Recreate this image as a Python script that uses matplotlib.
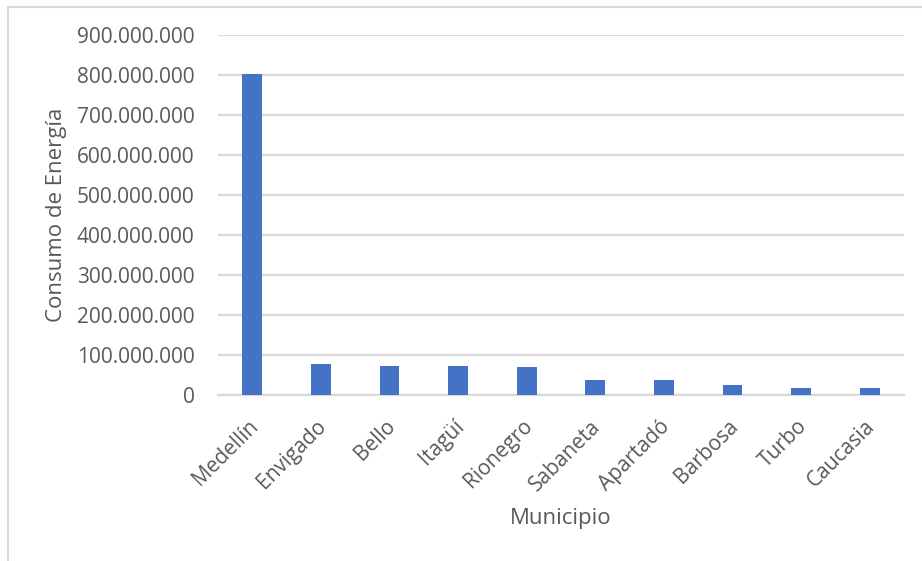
import matplotlib
matplotlib.use("Agg")
import matplotlib.pyplot as plt
from matplotlib.lines import Line2D
from matplotlib.ticker import FuncFormatter, MultipleLocator
from matplotlib.transforms import ScaledTranslation

# Energy consumption by municipality
municipios = ["Medellín", "Envigado", "Bello", "Itagüí", "Rionegro",
              "Sabaneta", "Apartadó", "Barbosa", "Turbo", "Caucasia"]
consumo = [803_000_000, 77_000_000, 73_500_000, 73_000_000, 70_000_000,
           37_000_000, 37_000_000, 24_000_000, 17_500_000, 17_500_000]

BAR = "#4472C4"
GRID = "#D9D9D9"
TEXT = "#595959"

plt.rcParams["font.family"] = ["Open Sans", "DejaVu Sans"]

fig = plt.figure(figsize=(9.22, 5.61), dpi=100)
ax = fig.add_axes([218 / 922, 1 - 395 / 561, 686 / 922, 360 / 561])

x = list(range(len(municipios)))
ax.bar(x, consumo, width=0.29, color=BAR, zorder=3)

ax.set_xlim(-0.5, len(municipios) - 0.5)
ax.set_ylim(0, 900_000_000)
ax.yaxis.set_major_locator(MultipleLocator(100_000_000))
ax.yaxis.set_major_formatter(
    FuncFormatter(lambda v, p: f"{int(v):,}".replace(",", ".")))

ax.grid(axis="y", color=GRID, linewidth=1.6, zorder=0)
for s in ("top", "right", "left"):
    ax.spines[s].set_visible(False)
ax.spines["bottom"].set_color(GRID)
ax.spines["bottom"].set_linewidth(1.6)

ax.tick_params(axis="both", length=0, colors=TEXT)
ax.tick_params(axis="y", pad=17, labelsize=15)
ax.tick_params(axis="x", pad=15, labelsize=15)
ax.set_xticks(x)
ax.set_xticklabels(municipios, rotation=45, ha="right",
                   rotation_mode="anchor")
shift = ScaledTranslation(-5 / 100, 0, fig.dpi_scale_trans)
for lbl in ax.get_xticklabels():
    lbl.set_transform(lbl.get_transform() + shift)

ax.set_xlabel("Municipio", fontsize=16, color=TEXT)
ax.xaxis.set_label_coords(0.5, -0.342)
ax.xaxis.label.set_va("center")
ax.set_ylabel("Consumo de Energía", fontsize=16, color=TEXT)
ax.yaxis.set_label_coords(-0.2347, 0.5)
ax.yaxis.label.set_va("center")

# Chart-area frame (top and left edges)
fig.add_artist(Line2D([8 / 922, 1.0], [1 - 7 / 561, 1 - 7 / 561],
                      transform=fig.transFigure, color=GRID, linewidth=1.5))
fig.add_artist(Line2D([8 / 922, 8 / 922], [0.0, 1 - 7 / 561],
                      transform=fig.transFigure, color=GRID, linewidth=1.5))

fig.savefig("out.png", dpi=100, facecolor="white")
